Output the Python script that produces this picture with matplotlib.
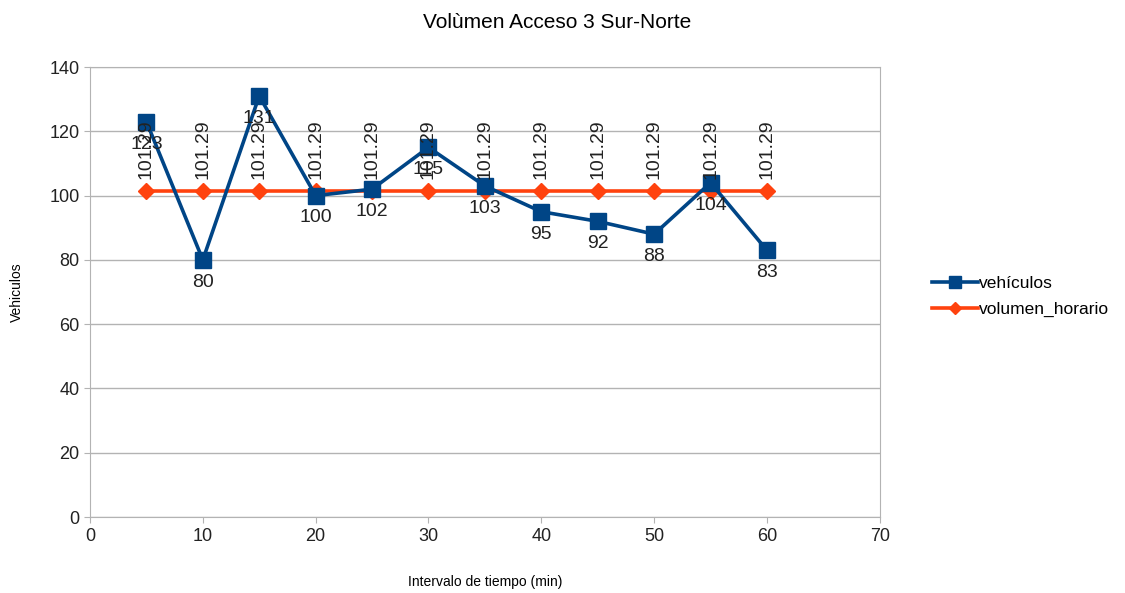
import numpy as np
import matplotlib.pyplot as plt

plt.rcParams['font.family'] = ['Liberation Sans', 'DejaVu Sans']

intervalo = [5, 10, 15, 20, 25, 30, 35, 40, 45, 50, 55, 60]
vehiculos = [123, 80, 131, 100, 102, 115, 103, 95, 92, 88, 104, 83]
volumen_horario = [101.29] * 12

azul = '#004586'
naranja = '#ff420e'

fig = plt.figure(figsize=(11.25, 5.93), dpi=100)
ax = fig.add_axes([0.08, 0.128, 0.702, 0.759])

ax.plot(intervalo, vehiculos, color=azul, lw=2.6, marker='s', ms=11,
        label='vehículos', zorder=3)
ax.plot(intervalo, volumen_horario, color=naranja, lw=2.6, marker='D', ms=8,
        label='volumen_horario', zorder=2)

for x, y in zip(intervalo, vehiculos):
    ax.annotate(str(y), (x, y), xytext=(0, -10), textcoords='offset points',
                ha='center', va='top', fontsize=14, color='#222222', zorder=4)
for x, y in zip(intervalo, volumen_horario):
    ax.annotate('101.29', (x, y), xytext=(0, 9), textcoords='offset points',
                ha='center', va='bottom', rotation=90, fontsize=14,
                color='#222222', zorder=4)

ax.set_xlim(0, 70)
ax.set_ylim(0, 140)
ax.set_xticks(np.arange(0, 71, 10))
ax.set_yticks(np.arange(0, 141, 20))
ax.grid(axis='y', color='#b3b3b3', lw=1)
ax.set_axisbelow(True)
for s in ax.spines.values():
    s.set_color('#b3b3b3')
ax.tick_params(colors='#b3b3b3', labelcolor='#222222', labelsize=13, length=4)

ax.set_xlabel('Intervalo de tiempo (min)', fontsize=10, labelpad=22)
ax.set_ylabel('Vehiculos', fontsize=10, labelpad=18)
fig.text(0.495, 0.962, 'Volùmen Acceso 3 Sur-Norte', fontsize=15,
         ha='center', va='center')

fig.legend(loc='center left', bbox_to_anchor=(0.815, 0.5), frameon=False,
           fontsize=12.5, handlelength=2.6, handletextpad=0.1, labelspacing=0.6,
           markerscale=0.8)

fig.savefig('out.png', dpi=100)
